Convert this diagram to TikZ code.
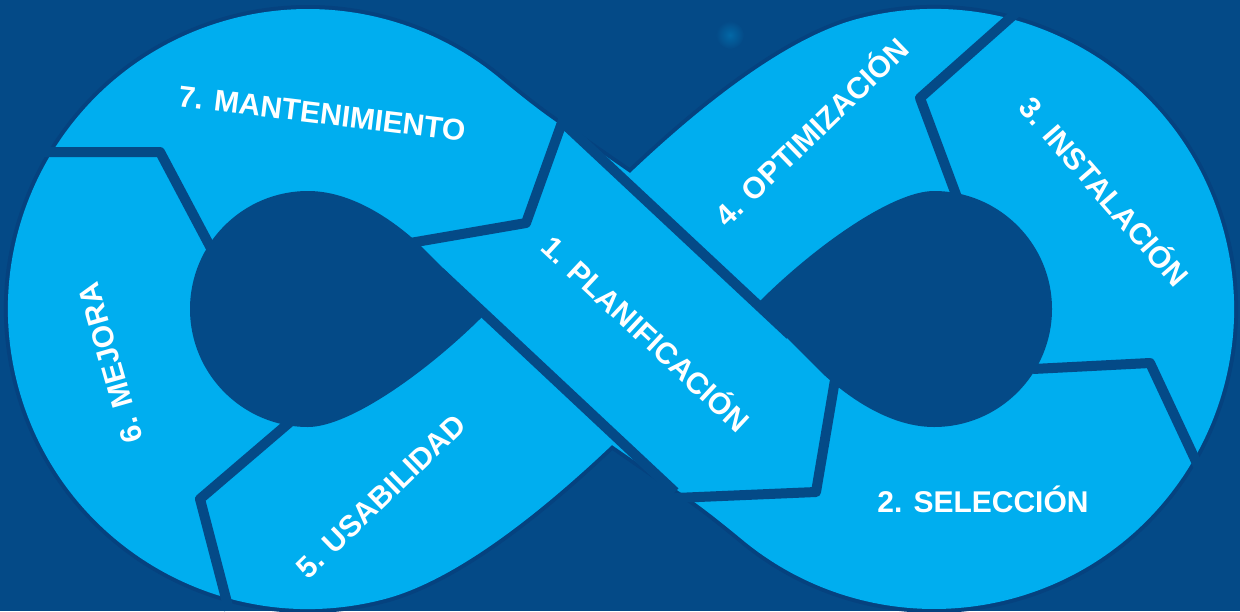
\documentclass[tikz,border=0pt]{standalone}
\usepackage{fontspec}
\setmainfont{Liberation Sans}

\definecolor{bgblue}{HTML}{044A87}
\definecolor{rimblue}{HTML}{05427F}
\definecolor{bandblue}{HTML}{00AEEF}

\tikzset{
  divider/.style={draw=bgblue, line width=10pt, line join=round},
  stage/.style={text=white, font=\fontsize{30}{36}\selectfont\bfseries,
    text height=21.5pt, text depth=0pt, inner sep=0pt}
}

\begin{document}
\begin{tikzpicture}[x=1pt, y=-1pt]

  \fill[bgblue] (0,0) rectangle (1240,611);
  \useasboundingbox (0,0) rectangle (1240,611);
  \shade[inner color=bandblue!30!bgblue, outer color=bgblue] (730,35) circle[radius=14];

  \fill[bandblue, preaction={draw=rimblue, line width=8pt}]
    (612,445) .. controls (554,500) and (463,578) .. (385.6,598.8)
    arc[start angle=75, end angle=310, radius=300]
    .. controls (526,100) and (544,114) .. (565,128) -- (630,173)
    .. controls (688,118) and (779,40) .. (856.4,19.2)
    arc[start angle=255, end angle=490, radius=300]
    .. controls (716,518) and (698,504) .. (677,490) -- cycle;

  \fill[bgblue] (308,191) .. controls (350,191) and (391,218) .. (420,245) -- (487,312)
    .. controls (430,370) and (350,427) .. (308,427)
    arc[start angle=90, end angle=270, radius=118] -- cycle;
  \fill[bgblue] (934,427) .. controls (892,427) and (851,400) .. (822,373) -- (755,306)
    .. controls (812,248) and (892,191) .. (934,191)
    arc[start angle=270, end angle=450, radius=118] -- cycle;

  \draw[divider] (440,272) -- (675,492);
  \draw[divider] (560,120) -- (790,335);

  \draw[divider] (40,152) -- (160,152) -- (213,252);
  \draw[divider] (564,117) -- (526,223) -- (410,243);
  \draw[divider] (290,422) -- (200,499) -- (229,610);
  \draw[divider] (675,498) -- (816,492) -- (836,374);
  \draw[divider] (1033,369) -- (1150,363) -- (1201,472);
  \draw[divider] (1018,11) -- (920,98) -- (958,200);

  \node[stage, rotate=-43] (plan) at (646,334) {1. PLANIFICACIÓN};
  \node[stage] (sele) at (983,502) {2. SELECCIÓN};
  \node[stage, rotate=-49] (inst) at (1104,192) {3. INSTALACIÓN};
  \node[stage, rotate=44] (opti) at (812,132) {4. OPTIMIZACIÓN};
  \node[stage, rotate=44] (usab) at (381,496) {5. USABILIDAD};
  \node[stage, rotate=106] (mejo) at (110,363) {6. MEJORA};
  \node[stage, rotate=-7] (mant) at (322,113) {7. MANTENIMIENTO};
\end{tikzpicture}
\end{document}
